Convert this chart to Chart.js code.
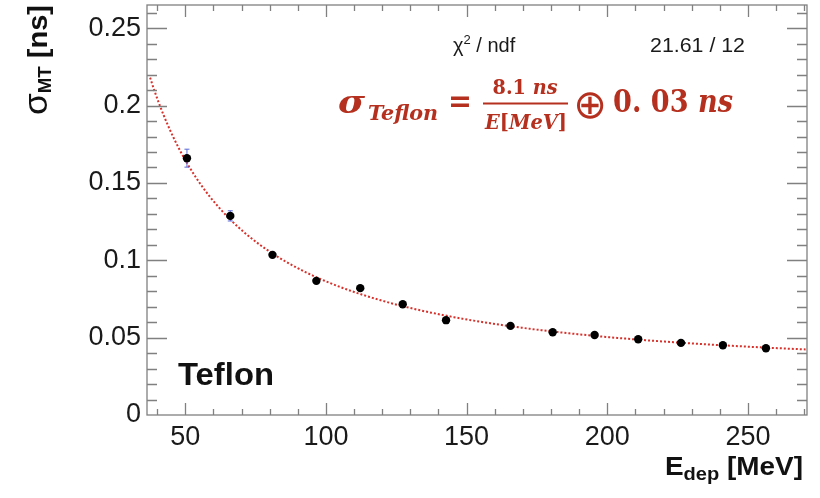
<!DOCTYPE html>
<html>
<head>
<meta charset="utf-8">
<script src="https://cdn.jsdelivr.net/npm/chart.js@4/dist/chart.umd.min.js"></script>
<style>
  html, body { margin: 0; padding: 0; background: #fff; }
  canvas { display: block; }
</style>
</head>
<body>
<canvas id="c" width="820" height="498"></canvas>
<script>
// Timing resolution of the Teflon-wrapped module versus deposited energy
const energy   = [50.6, 66.0, 81.0, 96.6, 112.2, 127.3, 142.7, 165.6, 180.6, 195.5, 211.0, 226.2, 241.1, 256.4];
const sigma    = [0.166, 0.1287, 0.1035, 0.0867, 0.0820, 0.0716, 0.0613, 0.0576, 0.0535, 0.0517, 0.0490, 0.0466, 0.0451, 0.0431];
const sigmaErr = [0.0058, 0.0033, 0.0016, 0.0011, 0.0010, 0.0009, 0.0008, 0.0007, 0.0006, 0.0006, 0.0005, 0.0005, 0.0005, 0.0005];

const xTicks = [50, 100, 150, 200, 250];
const yTicks = [0, 0.05, 0.1, 0.15, 0.2, 0.25];

// Fit result: sigma = a / E  (+)  c   (quadrature sum)
const fitA = 8.1;     // ns * MeV
const fitC = 0.03;    // ns
const chi2 = 21.61;
const ndf = 12;

const xRange = [36.4, 271];
const yRange = [0, 0.265];

// sample the fitted function across the visible range
const fitCurve = [];
for (let e = 37.5; e <= xRange[1]; e += 1) {
  fitCurve.push({ x: e, y: Math.sqrt((fitA / e) ** 2 + fitC ** 2) });
}

const SANS = '"Liberation Sans", Arial, Helvetica, sans-serif';
const SERIF = '"DejaVu Serif", serif';
const RED = '#b5301f';

function runsWidth(ctx, parts) {
  let w = 0;
  for (const p of parts) { ctx.font = p.f; w += ctx.measureText(p.t).width; }
  return w;
}
function drawRuns(ctx, x, y, parts) {
  for (const p of parts) {
    ctx.font = p.f;
    ctx.fillText(p.t, x, y + (p.dy || 0));
    x += ctx.measureText(p.t).width;
  }
  return x;
}
// draw a run of text squeezed/stretched to a given width
function drawFit(ctx, x, y, parts, width, align) {
  const w = runsWidth(ctx, parts);
  const s = width ? width / w : 1;
  ctx.save();
  let x0 = x;
  if (align === 'center') x0 = x - (w * s) / 2;
  if (align === 'right') x0 = x - w * s;
  ctx.translate(x0, y);
  ctx.scale(s, 1);
  drawRuns(ctx, 0, 0, parts);
  ctx.restore();
}

const decorations = {
  id: 'decorations',
  beforeDatasetDraw(chart, args) {
    if (args.index !== 0) return;
    const { ctx, scales: { x, y } } = chart;
    ctx.save();
    ctx.strokeStyle = '#5b6bd8';
    ctx.lineWidth = 1;
    energy.forEach((e, i) => {
      const px = x.getPixelForValue(e);
      const y1 = y.getPixelForValue(sigma[i] + sigmaErr[i]);
      const y2 = y.getPixelForValue(sigma[i] - sigmaErr[i]);
      ctx.beginPath();
      ctx.moveTo(px, y1); ctx.lineTo(px, y2);
      ctx.moveTo(px - 2.5, y1); ctx.lineTo(px + 2.5, y1);
      ctx.moveTo(px - 2.5, y2); ctx.lineTo(px + 2.5, y2);
      ctx.stroke();
    });
    ctx.restore();
  },
  afterDraw(chart) {
    const { ctx, chartArea: a, scales: { x, y } } = chart;
    ctx.save();
    // frame and inward ticks on all four sides
    ctx.strokeStyle = '#808080';
    ctx.lineWidth = 1.3;
    ctx.strokeRect(a.left, a.top, a.right - a.left, a.bottom - a.top);
    ctx.beginPath();
    for (let k = 4; k * 10 <= x.max; k++) {
      const px = Math.round(x.getPixelForValue(k * 10)) + 0.5;
      const len = k % 5 === 0 ? 12 : 6;
      ctx.moveTo(px, a.bottom); ctx.lineTo(px, a.bottom - len);
      ctx.moveTo(px, a.top); ctx.lineTo(px, a.top + len);
    }
    for (let k = 1; k * 0.01 <= y.max + 1e-9; k++) {
      const py = Math.round(y.getPixelForValue(k * 0.01)) + 0.5;
      const len = k % 5 === 0 ? 20 : 10;
      ctx.moveTo(a.left, py); ctx.lineTo(a.left + len, py);
      ctx.moveTo(a.right, py); ctx.lineTo(a.right - len, py);
    }
    ctx.stroke();

    ctx.fillStyle = '#111';
    ctx.textBaseline = 'alphabetic';
    ctx.textAlign = 'left';

    // x axis title
    drawFit(ctx, a.right - 4, a.bottom + 60, [
      { t: 'E', f: `bold 25px ${SANS}` },
      { t: 'dep', f: `bold 18px ${SANS}`, dy: 5 },
      { t: ' [MeV]', f: `bold 25px ${SANS}` }
    ], 138, 'right');

    // y axis title, rotated
    ctx.save();
    ctx.translate(47, a.top + 110);
    ctx.rotate(-Math.PI / 2);
    drawFit(ctx, 0, 0, [
      { t: '\u03C3', f: `34px ${SANS}` },
      { t: 'MT', f: `bold 18px ${SANS}`, dy: 4 },
      { t: ' [ns]', f: `bold 28px ${SANS}` }
    ], 110);
    ctx.restore();

    // sample label
    drawFit(ctx, a.left + 31, a.top + 380, [{ t: 'Teflon', f: `bold 32px ${SANS}` }], 96);

    // fit statistics
    ctx.fillStyle = '#1a1a1a';
    drawRuns(ctx, a.left + 306, a.top + 47, [
      { t: '\u03C7', f: `20px ${SANS}` },
      { t: '2', f: `13px ${SANS}`, dy: -8 },
      { t: ' / ndf', f: `20px ${SANS}` }
    ]);
    drawFit(ctx, a.left + 598, a.top + 47, [{ t: `${chi2.toFixed(2)} / ${ndf}`, f: `20px ${SANS}` }], 95, 'right');

    // fitted resolution formula
    ctx.fillStyle = RED;
    ctx.strokeStyle = RED;
    drawFit(ctx, a.left + 191, a.top + 108, [{ t: '\u03C3', f: `italic bold 31px ${SERIF}` }], 27);
    drawFit(ctx, a.left + 221, a.top + 115, [{ t: 'Teflon', f: `italic bold 21px ${SERIF}` }], 70);
    drawFit(ctx, a.left + 301, a.top + 107, [{ t: '=', f: `bold 31px ${SERIF}` }], 24);
    drawFit(ctx, a.left + 378, a.top + 89, [
      { t: String(fitA), f: `bold 20px ${SERIF}` },
      { t: ' ns', f: `italic bold 20px ${SERIF}` }
    ], 65, 'center');
    ctx.lineWidth = 2;
    ctx.beginPath();
    ctx.moveTo(a.left + 336, a.top + 98.5);
    ctx.lineTo(a.left + 421, a.top + 98.5);
    ctx.stroke();
    drawFit(ctx, a.left + 379, a.top + 124, [
      { t: 'E', f: `italic bold 20px ${SERIF}` },
      { t: '[', f: `bold 20px ${SERIF}` },
      { t: 'MeV', f: `italic bold 20px ${SERIF}` },
      { t: ']', f: `bold 20px ${SERIF}` }
    ], 82, 'center');
    ctx.textAlign = 'center';
    ctx.textBaseline = 'middle';
    ctx.font = `40px "DejaVu Sans", sans-serif`;
    ctx.fillText('\u2295', a.left + 443, a.top + 103);
    ctx.textAlign = 'left';
    ctx.textBaseline = 'alphabetic';
    drawFit(ctx, a.left + 466, a.top + 107, [
      { t: '0. 03', f: `bold 31px ${SERIF}` },
      { t: ' ns', f: `italic bold 31px ${SERIF}` }
    ], 120);
    ctx.restore();
  }
};

new Chart(document.getElementById('c'), {
  type: 'scatter',
  data: {
    datasets: [
      {
        label: 'data',
        data: energy.map((e, i) => ({ x: e, y: sigma[i] })),
        backgroundColor: '#000',
        borderColor: '#000',
        pointRadius: 4.2,
        pointHoverRadius: 4.2,
        borderWidth: 0
      },
      {
        type: 'line',
        label: 'fit',
        data: fitCurve,
        borderColor: '#d8302a',
        borderWidth: 2,
        borderDash: [2, 2],
        pointRadius: 0,
        fill: false,
        tension: 0
      }
    ]
  },
  options: {
    responsive: false,
    animation: false,
    events: [],
    layout: { padding: { top: 5, right: 13, left: 0, bottom: 0 } },
    plugins: { legend: { display: false }, tooltip: { enabled: false } },
    scales: {
      x: {
        type: 'linear',
        min: xRange[0],
        max: xRange[1],
        grid: { display: false, drawTicks: false },
        border: { display: false },
        afterBuildTicks: s => { s.ticks = xTicks.map(v => ({ value: v })); },
        afterFit: s => { s.height = 83; s.paddingLeft = 0; s.paddingRight = 0; },
        ticks: {
          font: { family: 'Liberation Sans', size: 27 },
          color: '#1a1a1a',
          padding: 6,
          maxRotation: 0,
          autoSkip: false
        }
      },
      y: {
        type: 'linear',
        min: yRange[0],
        max: yRange[1],
        grid: { display: false, drawTicks: false },
        border: { display: false },
        afterBuildTicks: s => { s.ticks = yTicks.map(v => ({ value: v })); },
        afterFit: s => { s.width = 147; s.paddingTop = 0; s.paddingBottom = 0; },
        ticks: {
          font: { family: 'Liberation Sans', size: 27 },
          color: '#1a1a1a',
          padding: 6,
          autoSkip: false,
          callback: v => String(+Number(v).toFixed(2))
        }
      }
    }
  },
  plugins: [decorations]
});
</script>
</body>
</html>
